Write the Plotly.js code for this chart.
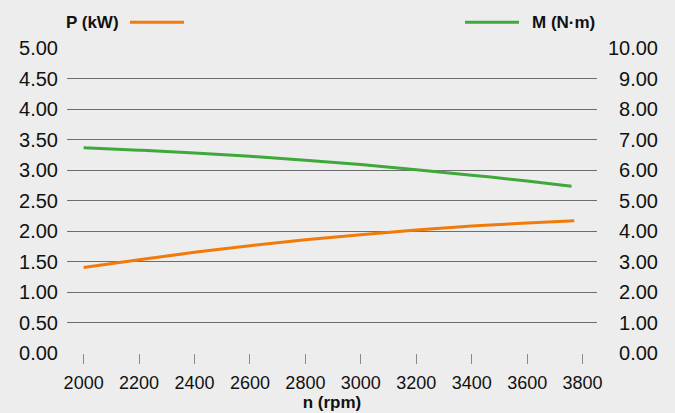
<!DOCTYPE html>
<html>
<head>
<meta charset="utf-8">
<script src="https://cdn.plot.ly/plotly-3.0.1.min.js"></script>
<style>
  html, body { margin: 0; padding: 0; background: #ededed; }
  #chart { width: 675px; height: 413px; }
</style>
</head>
<body>
<div id="chart"></div>
<script>
// Speed (rpm) for each curve
const rpmP = [2000, 2200, 2400, 2600, 2800, 3000, 3200, 3400, 3600, 3770];
const rpmM = [2000, 2200, 2400, 2600, 2800, 3000, 3200, 3400, 3600, 3760];
// Power P (kW), left axis
const powerKW = [1.40, 1.53, 1.65, 1.76, 1.855, 1.94, 2.015, 2.08, 2.13, 2.17];
// Torque M (N·m), right axis
const torqueNm = [6.73, 6.65, 6.56, 6.45, 6.32, 6.18, 6.01, 5.83, 5.64, 5.47];
// Tick values
const xTicks = [2000, 2200, 2400, 2600, 2800, 3000, 3200, 3400, 3600, 3800];
const leftTicks = [0, 0.5, 1, 1.5, 2, 2.5, 3, 3.5, 4, 4.5, 5];
const rightTicks = [0, 1, 2, 3, 4, 5, 6, 7, 8, 9, 10];
// Labels
const labelP = "P (kW)";
const labelM = "M (N·m)";
const labelX = "n (rpm)";

const ORANGE = "#f07a0a";
const GREEN = "#3ea93a";
const GRID = "#6e6e6e";
const BG = "#ededed";
const FONT = "Liberation Sans, Arial, sans-serif";

// geometry helpers (pixels -> paper fractions)
const W = 675, H = 413;
const mL = 67, mR = 10, mT = 47.7, mB = 60.3;
const pw = W - mL - mR, ph = H - mT - mB;
const px = v => (v - mL) / pw;
const py = v => (H - mB - v) / ph;

const traces = [
  {
    x: rpmP, y: powerKW, xaxis: "x", yaxis: "y",
    mode: "lines", line: {color: ORANGE, width: 3, shape: "spline"},
    name: labelP, showlegend: false, hoverinfo: "skip"
  },
  {
    x: rpmM, y: torqueNm, xaxis: "x", yaxis: "y2",
    mode: "lines", line: {color: GREEN, width: 3, shape: "spline"},
    name: labelM, showlegend: false, hoverinfo: "skip"
  }
];

const layout = {
  width: W, height: H,
  paper_bgcolor: BG, plot_bgcolor: BG,
  margin: {l: mL, r: mR, t: mT, b: mB, pad: 0},
  font: {family: FONT, color: "#111", size: 18},
  showlegend: false,
  xaxis: {
    domain: [0, px(597)],
    range: [1940, 3852],
    tickvals: xTicks,
    ticktext: xTicks.map(String),
    ticks: "outside", ticklen: 10, tickcolor: "#8a8a8a", tickwidth: 1,
    showgrid: false, zeroline: false,
    showline: false,
    tickfont: {size: 18, family: FONT, color: "#111"},
    ticklabelstandoff: 3,
    title: {text: "<b>" + labelX + "</b>", font: {size: 17, family: FONT, color: "#111"}, standoff: 1},
    fixedrange: true
  },
  xaxis2: {
    overlaying: "x", matches: "x", anchor: "y",
    domain: [0, px(597)],
    tickvals: xTicks, showticklabels: false,
    ticks: "inside", ticklen: 5, tickcolor: "#8a8a8a", tickwidth: 1,
    showgrid: false, zeroline: false, showline: false
  },
  yaxis: {
    range: [0, 5],
    tickvals: leftTicks,
    ticktext: leftTicks.map(v => v.toFixed(2)),
    showgrid: true, gridcolor: GRID, gridwidth: 1,
    zeroline: false, showline: false, ticks: "",
    ticklabelstandoff: 8,
    tickfont: {size: 20, family: FONT, color: "#111"},
    fixedrange: true
  },
  yaxis2: {
    overlaying: "y", anchor: "free", side: "left",
    position: px(658),
    range: [0, 10],
    tickvals: rightTicks,
    ticktext: rightTicks.map(v => v.toFixed(2)),
    showgrid: false, zeroline: false, showline: false, ticks: "",
    ticklabelstandoff: 0,
    tickfont: {size: 20, family: FONT, color: "#111"},
    automargin: false,
    fixedrange: true
  },
  annotations: [
    {xref: "paper", yref: "paper", x: px(64), y: py(22), xanchor: "left", yanchor: "middle",
     text: "<b>" + labelP + "</b>", showarrow: false, font: {size: 17, family: FONT, color: "#111"}},
    {xref: "paper", yref: "paper", x: px(597), y: py(22), xanchor: "right", yanchor: "middle",
     text: "<b>" + labelM + "</b>", showarrow: false, font: {size: 17, family: FONT, color: "#111"}}
  ],
  shapes: [
    {type: "line", xref: "paper", yref: "paper", x0: px(130), x1: px(184), y0: py(22), y1: py(22),
     line: {color: ORANGE, width: 3}},
    {type: "line", xref: "paper", yref: "paper", x0: px(465), x1: px(519), y0: py(22), y1: py(22),
     line: {color: GREEN, width: 3}}
  ]
};

Plotly.newPlot("chart", traces, layout, {displayModeBar: false, staticPlot: true});
</script>
</body>
</html>
